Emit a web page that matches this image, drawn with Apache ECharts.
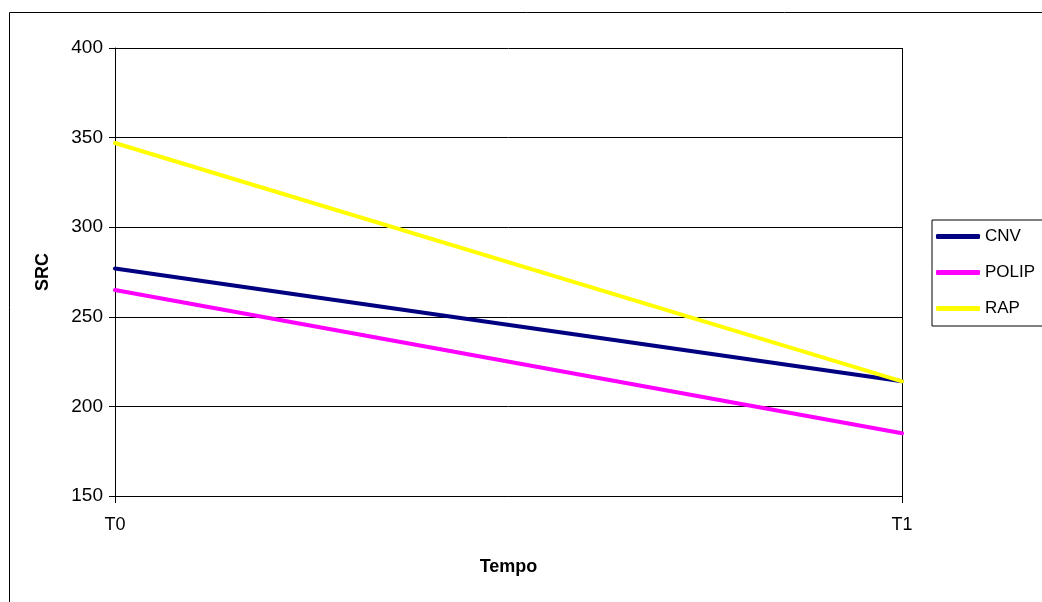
<!DOCTYPE html>
<html>
<head>
<meta charset="utf-8">
<title>SRC – Tempo</title>
<script src="https://cdn.jsdelivr.net/npm/echarts@6/dist/echarts.min.js"></script>
<style>
  html, body { margin: 0; padding: 0; background: #fff; }
  #chart { width: 1042px; height: 602px; }
</style>
</head>
<body>
<div id="chart"></div>
<script>
// Time points and SRC values per group
const categories = ['T0', 'T1'];
const cnv = [277, 214];
const polip = [265, 185];
const rap = [347, 214];
const yTicks = { min: 150, max: 400, step: 50 };

const FONT = '"Liberation Sans", Arial, sans-serif';

const chart = echarts.init(document.getElementById('chart'), null, { renderer: 'canvas' });

function lineSeries(name, data, color) {
  return {
    name: name,
    type: 'line',
    data: data,
    symbol: 'none',
    lineStyle: { width: 4, color: color, cap: 'round' },
    itemStyle: { color: color },
    z: 3
  };
}

chart.setOption({
  animation: false,
  backgroundColor: '#ffffff',
  textStyle: { fontFamily: FONT },
  graphic: [{
    type: 'rect',
    shape: { x: 9.5, y: 12.5, width: 1100, height: 700 },
    style: { fill: 'none', stroke: '#000', lineWidth: 1 },
    z: -1,
    silent: true
  }],
  grid: { left: 115, top: 48, right: 140, bottom: 106, containLabel: false },
  legend: {
    orient: 'vertical',
    left: 932,
    top: 220,
    padding: [8, 60, 9, 4],
    backgroundColor: '#fff',
    borderColor: '#000',
    borderWidth: 1,
    icon: 'roundRect',
    itemWidth: 44,
    itemHeight: 5,
    itemGap: 19,
    textStyle: { fontFamily: FONT, fontSize: 17, color: '#000' },
    data: ['CNV', 'POLIP', 'RAP']
  },
  xAxis: {
    type: 'category',
    data: categories,
    boundaryGap: false,
    name: 'Tempo',
    nameLocation: 'middle',
    nameGap: 62,
    nameTextStyle: { fontFamily: FONT, fontSize: 18, fontWeight: 'bold', color: '#000' },
    axisLine: { lineStyle: { color: '#000', width: 1 } },
    axisTick: { show: true, length: 7, alignWithLabel: true, lineStyle: { color: '#000' } },
    axisLabel: { margin: 20, fontFamily: FONT, fontSize: 18, color: '#000' },
    splitLine: { show: true, lineStyle: { color: '#000', width: 1 } }
  },
  yAxis: {
    type: 'value',
    min: yTicks.min,
    max: yTicks.max,
    interval: yTicks.step,
    name: 'SRC',
    nameLocation: 'middle',
    nameGap: 63,
    nameTextStyle: { fontFamily: FONT, fontSize: 18, fontWeight: 'bold', color: '#000' },
    axisLine: { show: true, lineStyle: { color: '#000', width: 1 } },
    axisTick: { show: true, length: 6, lineStyle: { color: '#000' } },
    axisLabel: { margin: 12, fontFamily: FONT, fontSize: 19, color: '#000' },
    splitLine: { show: true, lineStyle: { color: '#000', width: 1 } }
  },
  series: [
    lineSeries('CNV', cnv, '#000080'),
    lineSeries('POLIP', polip, '#FF00FF'),
    lineSeries('RAP', rap, '#FFFF00')
  ]
});
</script>
</body>
</html>
